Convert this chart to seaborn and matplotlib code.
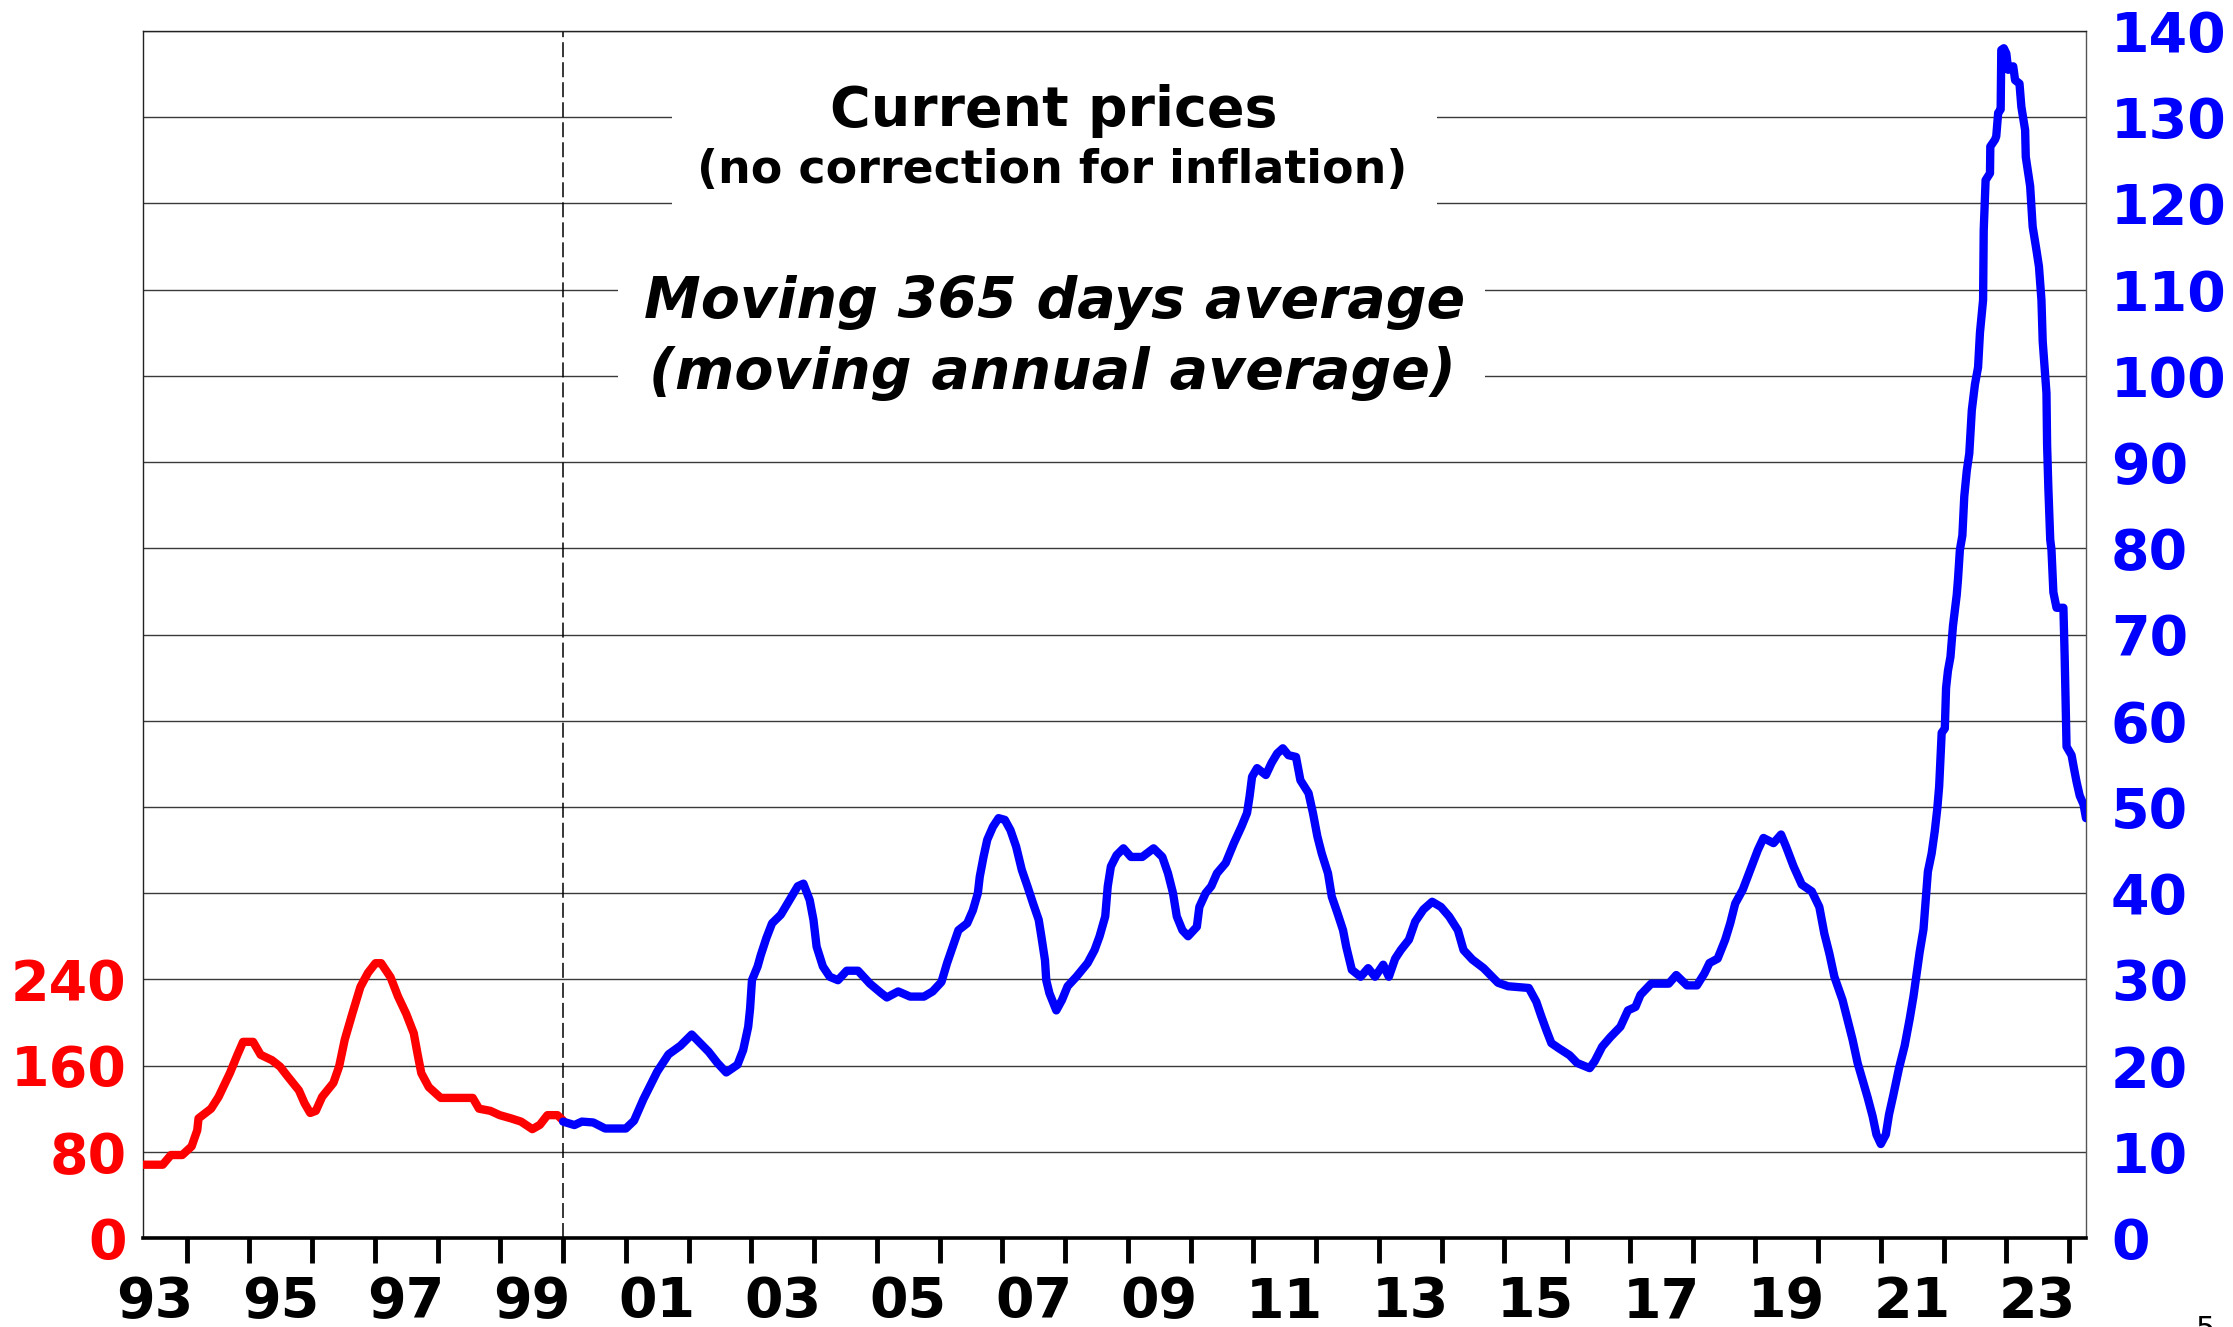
import numpy as np
import matplotlib
matplotlib.use("Agg")
import matplotlib.pyplot as plt
import seaborn as sns
from matplotlib.patches import Rectangle

# ---------------- data ----------------
# Red series (left axis, pre-euro currency units), decimal years
red_years = [1993.31, 1993.62, 1993.75, 1993.93, 1994.08, 1994.17, 1994.19, 1994.39, 1994.51,
             1994.69, 1994.81, 1994.90, 1995.06, 1995.18, 1995.36, 1995.49, 1995.61, 1995.79,
             1995.88, 1995.97, 1996.06, 1996.16, 1996.34, 1996.43, 1996.52, 1996.64, 1996.77,
             1996.89, 1997.01, 1997.10, 1997.25, 1997.37, 1997.50, 1997.62, 1997.68, 1997.74,
             1997.86, 1998.05, 1998.56, 1998.66, 1998.84, 1998.99, 1999.17, 1999.33, 1999.51,
             1999.63, 1999.75, 1999.91, 2000.00]
red_values = [68, 68, 77, 77, 85, 100, 111, 120, 131,
              153, 170, 182, 182, 170, 165, 159, 150, 137,
              125, 116, 118, 131, 144, 159, 184, 208, 233,
              246, 255, 255, 242, 224, 208, 190, 171, 153,
              140, 130, 130, 120, 118, 114, 111, 108, 101,
              105, 114, 114, 109]

# Blue series (right axis, EUR/MWh), decimal years
blue_years = [2000.00, 2000.18, 2000.30, 2000.48, 2000.67, 2001.00, 2001.13, 2001.28, 2001.50,
              2001.68, 2001.87, 2002.05, 2002.32, 2002.46, 2002.60, 2002.78, 2002.87, 2002.95,
              2002.98, 2003.01, 2003.10, 2003.15, 2003.24, 2003.33, 2003.47, 2003.61, 2003.74,
              2003.83, 2003.93, 2003.99, 2004.04, 2004.14, 2004.25, 2004.38, 2004.52, 2004.70,
              2004.89, 2005.07, 2005.16, 2005.34, 2005.53, 2005.75, 2005.89, 2006.03, 2006.12,
              2006.21, 2006.30, 2006.44, 2006.53, 2006.61, 2006.64, 2006.70, 2006.76, 2006.85,
              2006.94, 2007.04, 2007.13, 2007.22, 2007.31, 2007.40, 2007.49, 2007.58, 2007.63,
              2007.68, 2007.70, 2007.75, 2007.86, 2007.95, 2008.04, 2008.18, 2008.36, 2008.47,
              2008.55, 2008.64, 2008.68, 2008.73, 2008.82, 2008.93, 2009.05, 2009.23, 2009.41,
              2009.55, 2009.64, 2009.72, 2009.78, 2009.87, 2009.96, 2010.10, 2010.14, 2010.24,
              2010.33, 2010.42, 2010.56, 2010.69, 2010.81, 2010.90, 2010.94, 2010.98, 2011.06,
              2011.20, 2011.29, 2011.38, 2011.47, 2011.56, 2011.68, 2011.75, 2011.88, 2011.95,
              2012.02, 2012.09, 2012.19, 2012.25, 2012.34, 2012.43, 2012.48, 2012.57, 2012.71,
              2012.83, 2012.94, 2013.07, 2013.16, 2013.26, 2013.35, 2013.48, 2013.58, 2013.71,
              2013.85, 2013.99, 2014.12, 2014.26, 2014.35, 2014.49, 2014.67, 2014.90, 2015.06,
              2015.39, 2015.51, 2015.59, 2015.67, 2015.75, 2015.87, 2016.04, 2016.16, 2016.36,
              2016.44, 2016.56, 2016.69, 2016.85, 2016.97, 2017.09, 2017.17, 2017.34, 2017.62,
              2017.74, 2017.91, 2018.07, 2018.19, 2018.27, 2018.40, 2018.52, 2018.60, 2018.68,
              2018.80, 2018.92, 2019.04, 2019.13, 2019.29, 2019.41, 2019.49, 2019.61, 2019.74,
              2019.90, 2020.02, 2020.10, 2020.18, 2020.26, 2020.39, 2020.47, 2020.55, 2020.63,
              2020.71, 2020.79, 2020.87, 2020.93, 2021.00, 2021.08, 2021.13, 2021.20, 2021.29,
              2021.38, 2021.46, 2021.52, 2021.57, 2021.62, 2021.68, 2021.72, 2021.75, 2021.81,
              2021.86, 2021.90, 2021.93, 2021.95, 2021.97, 2022.02, 2022.04, 2022.07, 2022.11,
              2022.15, 2022.21, 2022.23, 2022.26, 2022.30, 2022.33, 2022.37, 2022.41, 2022.45,
              2022.50, 2022.55, 2022.58, 2022.63, 2022.64, 2022.67, 2022.74, 2022.745, 2022.82,
              2022.84, 2022.87, 2022.91, 2022.92, 2022.96, 2023.00, 2023.03, 2023.11, 2023.14,
              2023.21, 2023.24, 2023.30, 2023.31, 2023.38, 2023.42, 2023.48, 2023.52, 2023.56,
              2023.58, 2023.61, 2023.64, 2023.65, 2023.67, 2023.70, 2023.72, 2023.75, 2023.80,
              2023.91, 2023.93, 2023.96, 2024.04, 2024.08, 2024.12, 2024.17, 2024.23, 2024.27]
blue_values = [13.5, 13.1, 13.5, 13.4, 12.7, 12.7, 13.6, 16.1, 19.3,
               21.3, 22.3, 23.6, 21.6, 20.3, 19.2, 20.1, 21.8, 24.5,
               26.6, 29.9, 31.5, 32.8, 34.8, 36.5, 37.5, 39.2, 40.8,
               41.1, 39.2, 36.9, 33.8, 31.5, 30.3, 29.9, 31.0, 31.0,
               29.5, 28.4, 27.9, 28.6, 28.0, 28.0, 28.6, 29.7, 31.9,
               33.8, 35.7, 36.5, 38.0, 40.0, 41.9, 44.2, 46.2, 47.7,
               48.7, 48.5, 47.3, 45.4, 42.7, 40.8, 38.8, 36.9, 34.6,
               32.2, 29.9, 28.4, 26.4, 27.6, 29.2, 30.3, 31.9, 33.4,
               35.0, 37.3, 40.8, 43.1, 44.4, 45.2, 44.2, 44.2, 45.2,
               44.2, 42.3, 40.0, 37.3, 35.7, 35.0, 36.1, 38.4, 40.0,
               40.8, 42.3, 43.5, 45.8, 47.7, 49.3, 51.2, 53.5, 54.5,
               53.7, 55.1, 56.2, 56.8, 56.0, 55.8, 53.1, 51.6, 49.3,
               46.6, 44.6, 42.3, 39.6, 37.7, 35.7, 33.8, 31.1, 30.3,
               31.3, 30.3, 31.7, 30.3, 32.4, 33.4, 34.6, 36.7, 38.1,
               39.0, 38.4, 37.3, 35.7, 33.4, 32.3, 31.3, 29.6, 29.2,
               29.0, 27.4, 25.7, 24.1, 22.6, 22.0, 21.2, 20.3, 19.7,
               20.5, 22.2, 23.3, 24.5, 26.4, 26.8, 28.2, 29.5, 29.5,
               30.5, 29.3, 29.3, 30.7, 31.9, 32.4, 34.6, 36.5, 38.8,
               40.4, 42.7, 45.0, 46.4, 45.8, 46.8, 45.4, 43.1, 41.0,
               40.2, 38.4, 35.3, 33.0, 30.3, 27.6, 25.3, 23.0, 20.3,
               18.3, 16.3, 14.1, 12.0, 10.9, 12.0, 14.3, 16.6, 19.7,
               22.3, 25.4, 28.0, 30.6, 33.2, 35.8, 39.7, 42.5, 44.6,
               47.2, 49.8, 52.4, 55.5, 58.6, 59.1, 63.8, 65.8, 67.4,
               71.0, 74.6, 76.4, 79.8, 81.5, 86.0, 89.0, 91.0, 96.0,
               99.0, 101.0, 105.0, 108.8, 116.9, 122.7, 123.5, 126.6, 127.4,
               127.8, 130.5, 130.9, 137.8, 138.0, 137.4, 135.5, 135.9, 134.3,
               133.9, 131.2, 128.5, 125.4, 122.0, 117.3, 114.6, 112.7, 108.8,
               104.0, 101.0, 98.0, 92.0, 87.0, 81.0, 79.8, 74.9, 73.1,
               73.1, 67.4, 57.0, 56.0, 54.4, 52.9, 51.3, 50.3, 48.7]

left_ticks = [0, 80, 160, 240]
right_ticks = list(range(0, 141, 10))
year_tick_years = list(range(1994, 2025))
year_labels = ["93", "95", "97", "99", "01", "03", "05", "07", "09",
               "11", "13", "15", "17", "19", "21", "23"]
year_label_pos = [1993.5 + 2 * i for i in range(len(year_labels))]

# ---------------- styling ----------------
sns.set_theme(style="white")
plt.rcParams['font.family'] = ['DejaVu Sans']
plt.rcParams['font.weight'] = 'bold'

W, H = 2233, 1327
fig = plt.figure(figsize=(W / 100, H / 100), dpi=100)
fig.patch.set_facecolor('white')
L, R, T, B = 143.3, 2086, 31, 1238
ax = fig.add_axes([L / W, 1 - B / H, (R - L) / W, (B - T) / H])
ax2 = ax.twinx()

ax.set_axisbelow(True)

LW = 6.0
n0 = len(ax.get_lines())
sns.lineplot(x=red_years, y=red_values, ax=ax, color='#FF0000',
             estimator=None, sort=False)
for ln in ax.get_lines()[n0:]:
    ln.set_linewidth(LW)
    ln.set_solid_capstyle('round')
    ln.set_solid_joinstyle('round')
    ln.set_zorder(3)

n1 = len(ax2.get_lines())
sns.lineplot(x=blue_years, y=blue_values, ax=ax2, color='#0000FF',
             estimator=None, sort=False)
for ln in ax2.get_lines()[n1:]:
    ln.set_linewidth(LW)
    ln.set_solid_capstyle('round')
    ln.set_solid_joinstyle('round')
    ln.set_zorder(3)

ax.set_xlim(1993.31, 2024.27)
ax.set_ylim(0, 1120)
ax2.set_ylim(0, 140)
ax.set_xlabel('')
ax.set_ylabel('')
ax2.set_xlabel('')
ax2.set_ylabel('')

# left axis: gridlines every 80, labels only up to 240
grid_vals = list(range(0, 1121, 80))
ax.set_yticks(grid_vals, labels=[str(v) if v in left_ticks else '' for v in grid_vals])
ax.yaxis.grid(True, color='#3a3a3a', linewidth=1.0)
ax.xaxis.grid(False)
ax.tick_params(axis='y', left=True, length=0, pad=12, labelsize=40, labelcolor='#FF0000')
for lbl in ax.get_yticklabels():
    lbl.set_fontweight('bold')

ax2.set_yticks(right_ticks, labels=[str(v) for v in right_ticks])
ax2.tick_params(axis='y', right=True, length=0, pad=18, labelsize=40, labelcolor='#0000FF')
for lbl in ax2.get_yticklabels():
    lbl.set_fontweight('bold')
ax2.grid(False)

# x axis: ticks at year boundaries, labels centred on odd years
ax.set_xticks(year_tick_years, labels=[''] * len(year_tick_years))
ax.set_xticks(year_label_pos, labels=year_labels, minor=True)
ax.tick_params(axis='x', which='major', bottom=True, length=18, width=3.5,
               color='black', direction='out')
ax.tick_params(axis='x', which='minor', bottom=True, length=0, pad=27,
               labelsize=40, labelcolor='black')
for lbl in ax.get_xticklabels(minor=True):
    lbl.set_fontweight('bold')

# spines
for s in ['left', 'top']:
    ax.spines[s].set_color('#222222')
    ax.spines[s].set_linewidth(1.0)
ax.spines['right'].set_color('#555555')
ax.spines['right'].set_linewidth(1.0)
ax.spines['bottom'].set_color('black')
ax.spines['bottom'].set_linewidth(2.6)
for s in ax2.spines.values():
    s.set_visible(False)

# euro changeover marker
ax.axvline(2000.0, color='black', linewidth=1.1, linestyle=(0, (9.8, 3.3)), zorder=2)

# white boxes behind annotation texts (hide gridlines)
def fig_rect(x0, y0, x1, y1):
    return Rectangle((x0 / W, 1 - y1 / H), (x1 - x0) / W, (y1 - y0) / H,
                     transform=fig.transFigure, facecolor='white', edgecolor='none',
                     zorder=1)

ax.add_artist(fig_rect(672, 55, 1437, 230))
ax.add_artist(fig_rect(618, 245, 1485, 410))

fig.text(1054 / W, 1 - 126 / H, "Current prices", ha='center', va='baseline',
         fontsize=40, fontweight='bold', color='black')
fig.text(1052 / W, 1 - 183 / H, "(no correction for inflation)", ha='center', va='baseline',
         fontsize=33, fontweight='bold', color='black')
fig.text(1055 / W, 1 - 318 / H, "Moving 365 days average", ha='center', va='baseline',
         fontsize=41, fontweight='bold', style='italic', color='black')
fig.text(1052 / W, 1 - 389 / H, "(moving annual average)", ha='center', va='baseline',
         fontsize=41, fontweight='bold', style='italic', color='black')

# page number (partly cut off at the bottom edge, as in the reference)
fig.text(2196 / W, 1 - 1315 / H, "5", ha='left', va='top', fontsize=22,
         fontweight='normal', color='black')

fig.savefig('out.png', dpi=100, facecolor='white')
